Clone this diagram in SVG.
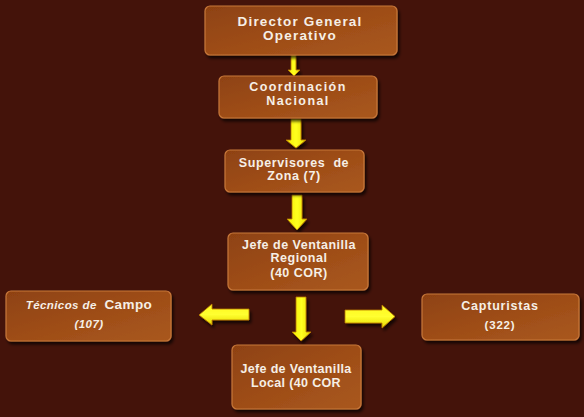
<svg xmlns="http://www.w3.org/2000/svg" width="584" height="417" viewBox="0 0 584 417">
<defs>
<linearGradient id="boxg" x1="0" y1="0" x2="1" y2="1">
<stop offset="0" stop-color="#8e4211"/>
<stop offset="0.5" stop-color="#9e4d17"/>
<stop offset="1" stop-color="#a9581f"/>
</linearGradient>
<linearGradient id="arrv" x1="0" y1="0" x2="1" y2="0">
<stop offset="0" stop-color="#f2ea00"/>
<stop offset="0.5" stop-color="#ffff20"/>
<stop offset="1" stop-color="#e8dc00"/>
</linearGradient>
<linearGradient id="arrh" x1="0" y1="0" x2="0" y2="1">
<stop offset="0" stop-color="#fff820"/>
<stop offset="0.5" stop-color="#ffff30"/>
<stop offset="1" stop-color="#e6d800"/>
</linearGradient>
<filter id="sh" x="-10%" y="-10%" width="130%" height="140%">
<feGaussianBlur in="SourceAlpha" stdDeviation="1.5"/>
<feOffset dx="1.5" dy="2.5"/>
<feComponentTransfer><feFuncA type="linear" slope="0.7"/></feComponentTransfer>
<feMerge><feMergeNode/><feMergeNode in="SourceGraphic"/></feMerge>
</filter>
</defs>
<style>
.box{fill:url(#boxg);stroke:#c8783a;stroke-width:1.2;filter:url(#sh)}
.t{font-family:"Liberation Sans",Arial,sans-serif;font-weight:bold;fill:#f6efe6;text-anchor:middle;font-size:12.5px}
.av{fill:url(#arrv);stroke:#b87a00;stroke-width:0.8;filter:url(#sh)}
.ah{fill:url(#arrh);stroke:#b87a00;stroke-width:0.8;filter:url(#sh)}
</style>
<rect width="584" height="417" fill="#44130a"/>
<g id="connectors">
<path class="av" d="M291,55 H296 V70 H300 L294,76 L288,70 H291 Z"/>
<path class="av" d="M291,119 H301 V140 H306 L296,148 L286,140 H291 Z"/>
<path class="av" d="M292,195 H302 V219 H307 L297,230 L287,219 H292 Z"/>
<path class="av" d="M296,297 H306 V332 H311 L301,341 L292,332 H296 Z"/>
<path class="ah" d="M249,309 V320 H212 V325 L199,315 L212,304 V309 Z"/>
<path class="ah" d="M345,310 V323 H382 V328 L395,316.5 L382,305 V310 Z"/>
</g>
<g id="n1">
<rect class="box" x="205" y="6" width="192" height="49" rx="5"/>
<text class="t" x="300" y="26" style="font-size:13.5px;letter-spacing:1.2px">Director General</text>
<text class="t" x="300" y="40" style="font-size:13.5px;letter-spacing:1.2px">Operativo</text>
</g>
<g id="n2">
<rect class="box" x="219" y="76" width="158" height="42" rx="5"/>
<text class="t" x="298" y="91" style="letter-spacing:1.4px">Coordinación</text>
<text class="t" x="298" y="105" style="letter-spacing:1.4px">Nacional</text>
</g>
<g id="n3">
<rect class="box" x="225" y="150" width="139" height="42" rx="5"/>
<text class="t" x="294" y="167" style="letter-spacing:0.6px" xml:space="preserve">Supervisores  de</text>
<text class="t" x="294" y="180" style="letter-spacing:0.6px">Zona (7)</text>
</g>
<g id="n4">
<rect class="box" x="228" y="233" width="140" height="57" rx="5"/>
<text class="t" x="299" y="249" style="letter-spacing:0.5px">Jefe de Ventanilla</text>
<text class="t" x="299" y="262" style="letter-spacing:0.5px">Regional</text>
<text class="t" x="299" y="277" style="letter-spacing:0.5px">(40 COR)</text>
</g>
<g id="n5">
<rect class="box" x="6" y="291" width="165" height="50" rx="5"/>
<text class="t" x="89" y="309" style="letter-spacing:0.4px" xml:space="preserve"><tspan style="font-style:italic;font-size:11.5px">Técnicos de </tspan><tspan style="font-size:13.5px"> Campo</tspan></text>
<text class="t" x="89" y="328" style="font-style:italic;font-size:11.5px;letter-spacing:0.4px">(107)</text>
</g>
<g id="n6">
<rect class="box" x="422" y="294" width="157" height="46" rx="5"/>
<text class="t" x="500" y="310" style="letter-spacing:0.8px">Capturistas</text>
<text class="t" x="500" y="329" style="font-size:11.5px;letter-spacing:0.8px">(322)</text>
</g>
<g id="n7">
<rect class="box" x="232" y="345" width="129" height="64" rx="5"/>
<text class="t" x="296" y="373" style="letter-spacing:0.35px">Jefe de Ventanilla</text>
<text class="t" x="296" y="387" style="letter-spacing:0.35px">Local (40 COR</text>
</g>
</svg>
